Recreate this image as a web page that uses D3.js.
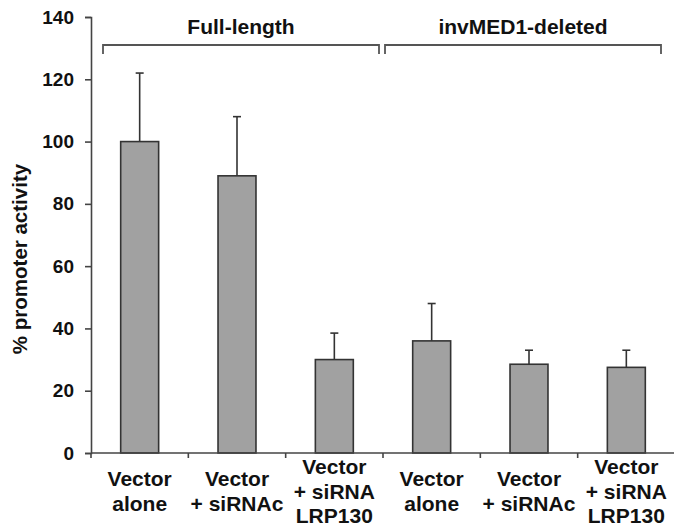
<!DOCTYPE html>
<html lang="en">
    <head>
        <meta charset="utf-8">
        <style>
            body { margin: 0; background: #fff; }
            text { font-family: Arial, "Liberation Sans", Helvetica, sans-serif; font-weight: bold; fill: #111; }
        </style>
    </head>
    <body>

        <svg id="mysvg" width="674" height="528"></svg>

        <script src="https://cdn.jsdelivr.net/npm/d3@7"></script>

        <script>
            // data
            var categories = ["va1", "vs1", "vl1", "va2", "vs2", "vl2"];
            var catLabels = [
                ["Vector", "alone"],
                ["Vector", "+ siRNAc"],
                ["Vector", "+ siRNA", "LRP130"],
                ["Vector", "alone"],
                ["Vector", "+ siRNAc"],
                ["Vector", "+ siRNA", "LRP130"]
            ];
            var activity = [100, 89, 30, 36, 28.5, 27.5];
            var errUp = [22, 19, 8.5, 12, 4.5, 5.5];
            var groups = ["Full-length", "invMED1-deleted"];
            var groupMembers = [[0, 1, 2], [3, 4, 5]];
            var yTicks = [0, 20, 40, 60, 80, 100, 120, 140];
            var yTitle = "% promoter activity";

            var svg = d3.select("#mysvg")

            // plot edges (note: "top" is reserved on window)
            var pLeft = 91, pRight = 675, pTop = 17, pBottom = 453;

            var x = d3.scaleBand()
                .domain(categories)
                .range([pLeft, pRight])
                .paddingInner(0.61)
                .paddingOuter(0.305)

            var y = d3.scaleLinear()
                .domain([0, 140])
                .range([pBottom, pTop])

            var step = x.step()

            // bars
            svg.selectAll("rect.bar")
                .data(activity)
                .enter()
                .append("rect")
                .attr("class", "bar")
                .attr("x", function(d, i){ return x(categories[i]); })
                .attr("y", function(d){ return y(d); })
                .attr("width", x.bandwidth())
                .attr("height", function(d){ return y(0) - y(d); })
                .attr("fill", "#a1a1a1")
                .attr("stroke", "#333")
                .attr("stroke-width", 1.6)

            // error bars (upper only)
            var errG = svg.append("g")
                .attr("stroke", "#333")
                .attr("stroke-width", 1.6)
            activity.forEach(function(d, i){
                var cx = x(categories[i]) + x.bandwidth() / 2;
                errG.append("line")
                    .attr("x1", cx).attr("x2", cx)
                    .attr("y1", y(d)).attr("y2", y(d + errUp[i]))
                errG.append("line")
                    .attr("x1", cx - 4).attr("x2", cx + 4)
                    .attr("y1", y(d + errUp[i])).attr("y2", y(d + errUp[i]))
            })

            // y axis
            var yAxis = svg.append("g")
                .attr("transform", "translate(" + pLeft + ",0)")
                .call(d3.axisLeft(y).tickValues(yTicks).tickSize(6).tickPadding(11))
            yAxis.select(".domain").attr("stroke", "#444").attr("stroke-width", 1.6)
            yAxis.selectAll(".tick line").attr("stroke", "#444").attr("stroke-width", 1.6)
            yAxis.selectAll(".tick text")
                .style("font-size", "19px")
                .style("font-family", "Arial, 'Liberation Sans', sans-serif")
                .style("font-weight", "bold")
                .attr("fill", "#111")

            // x axis: line with ticks at the category boundaries
            var bounds = categories.map(function(c){ return x(c) - step * x.paddingOuter(); })
            bounds.push(pRight)
            svg.append("line")
                .attr("x1", pLeft).attr("x2", pRight)
                .attr("y1", y(0)).attr("y2", y(0))
                .attr("stroke", "#444").attr("stroke-width", 1.6)
            svg.selectAll("line.xtick")
                .data(bounds)
                .enter()
                .append("line")
                .attr("class", "xtick")
                .attr("x1", function(d){ return d; }).attr("x2", function(d){ return d; })
                .attr("y1", y(0)).attr("y2", y(0) + 5)
                .attr("stroke", "#444").attr("stroke-width", 1.6)

            // category labels, centred on a common midline
            var lineH = 24.5, mid = 491;
            catLabels.forEach(function(lines, i){
                var cx = x(categories[i]) + x.bandwidth() / 2;
                var t = svg.append("text")
                    .attr("x", cx)
                    .attr("text-anchor", "middle")
                    .style("font-size", "21px")
                var y0 = mid - (lines.length - 1) * lineH / 2 + 7.5;
                lines.forEach(function(s, j){
                    t.append("tspan")
                        .attr("x", cx)
                        .attr("y", y0 + j * lineH)
                        .text(s)
                })
            })

            // group brackets
            var insets = [[12, -4], [2, -14]];
            groupMembers.forEach(function(m, g){
                var x0 = x(categories[m[0]]) - step * x.paddingOuter() + insets[g][0];
                var x1 = x(categories[m[m.length - 1]]) + x.bandwidth() + step * x.paddingOuter() + insets[g][1];
                var by = 45, drop = 9;
                svg.append("path")
                    .attr("d", "M" + x0 + "," + (by + drop) + "V" + by + "H" + x1 + "V" + (by + drop))
                    .attr("fill", "none")
                    .attr("stroke", "#555")
                    .attr("stroke-width", 1.8)
                svg.append("text")
                    .attr("x", (x0 + x1) / 2)
                    .attr("y", 34)
                    .attr("text-anchor", "middle")
                    .style("font-size", "21px")
                    .text(groups[g])
            })

            // y axis title
            svg.append("text")
                .attr("transform", "translate(27," + ((pTop + pBottom) / 2 + 24) + ") rotate(-90)")
                .attr("text-anchor", "middle")
                .style("font-size", "20.5px")
                .text(yTitle)
        </script>

    </body>
</html>
